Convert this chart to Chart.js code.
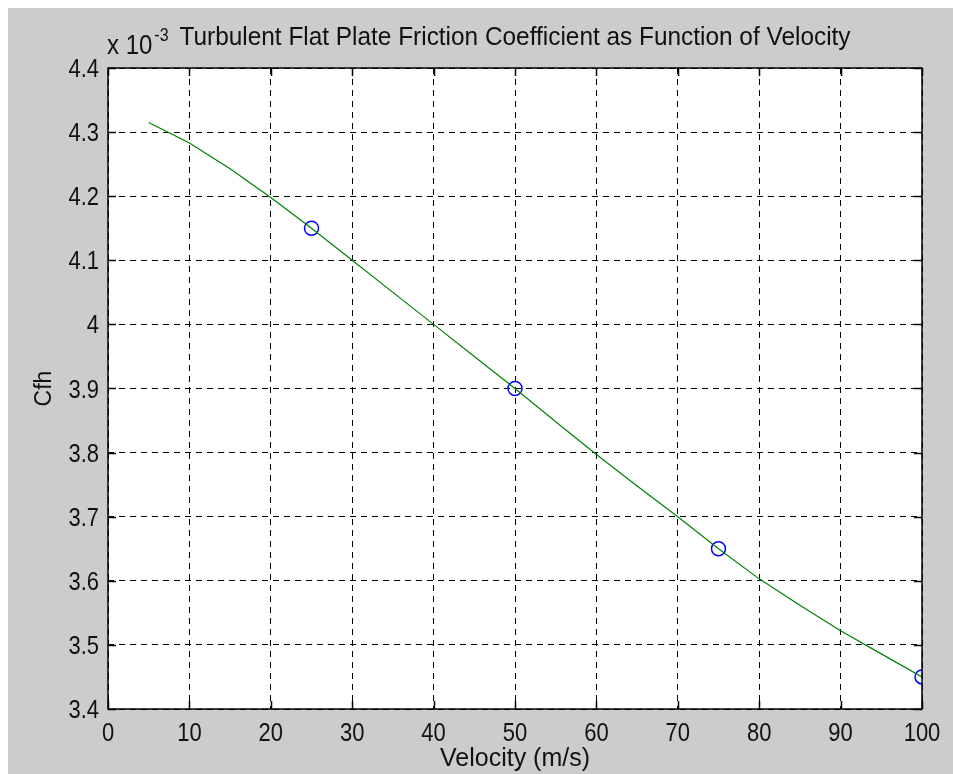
<!DOCTYPE html>
<html>
<head>
<meta charset="utf-8">
<title>Turbulent Flat Plate Friction Coefficient</title>
<script src="https://cdn.jsdelivr.net/npm/chart.js@4.4.1/dist/chart.umd.min.js"></script>
<style>
  html, body { margin: 0; background: #fff; }
  #wrap { position: absolute; left: 8px; top: 8px; width: 945px; height: 766px; background: #cccccc; }
</style>
</head>
<body>
<div id="wrap"><canvas id="cfChart" width="945" height="766"></canvas></div>
<script>
// Cfh values are given in units of 10^-3
const velocity = [5, 10, 15, 20, 25, 30, 35, 40, 45, 50, 55, 60, 65, 70, 75, 80, 85, 90, 95, 100];
const cfhCurve = [4.315, 4.283, 4.243, 4.198, 4.150, 4.100, 4.050, 4.000, 3.950, 3.900,
                  3.848, 3.797, 3.748, 3.700, 3.650, 3.603, 3.562, 3.522, 3.486, 3.450];
const sampleVelocity = [25, 50, 75, 100];
const sampleCfh = [4.15, 3.90, 3.65, 3.45];

const FONT = '"Liberation Sans", Arial, sans-serif';
const INK = '#111';
const TALL = 1.15; // the axis font is drawn a little stretched vertically

function tallText(ctx, str, x, y, sy) {
  ctx.save();
  ctx.translate(x, y);
  ctx.scale(1, sy);
  ctx.fillText(str, 0, 0);
  ctx.restore();
}

const fmtY = v => String(Math.round(v * 10) / 10);

// white plot area, black frame, inward ticks on all four sides, labels and titles
const axesBox = {
  id: 'axesBox',
  beforeDraw(chart) {
    const { ctx, chartArea: a } = chart;
    ctx.save();
    ctx.fillStyle = '#fff';
    ctx.fillRect(a.left, a.top, a.right - a.left, a.bottom - a.top);
    ctx.restore();
  },
  afterDraw(chart) {
    const { ctx, chartArea: a, scales } = chart;
    const len = 8;
    ctx.save();
    ctx.strokeStyle = '#000';
    ctx.lineWidth = 1.5;
    ctx.beginPath();
    scales.x.ticks.forEach(t => {
      const px = Math.round(scales.x.getPixelForValue(t.value)) + 0.5;
      ctx.moveTo(px, a.bottom); ctx.lineTo(px, a.bottom - len);
      ctx.moveTo(px, a.top); ctx.lineTo(px, a.top + len);
    });
    scales.y.ticks.forEach(t => {
      const py = Math.round(scales.y.getPixelForValue(t.value)) + 0.5;
      ctx.moveTo(a.left, py); ctx.lineTo(a.left + len, py);
      ctx.moveTo(a.right, py); ctx.lineTo(a.right - len, py);
    });
    ctx.stroke();
    ctx.strokeRect(a.left, a.top, a.right - a.left, a.bottom - a.top);

    // tick labels
    ctx.fillStyle = INK;
    ctx.textBaseline = 'alphabetic';
    ctx.font = '22px ' + FONT;
    ctx.textAlign = 'center';
    scales.x.ticks.forEach(t => {
      tallText(ctx, String(t.value), scales.x.getPixelForValue(t.value), a.bottom + 32, TALL);
    });
    ctx.textAlign = 'right';
    scales.y.ticks.forEach(t => {
      tallText(ctx, fmtY(t.value), a.left - 9, scales.y.getPixelForValue(t.value) + 9, TALL);
    });

    // titles
    ctx.font = '24.4px ' + FONT;
    ctx.textAlign = 'center';
    tallText(ctx, 'Turbulent Flat Plate Friction Coefficient as Function of Velocity', (a.left + a.right) / 2, 37, 1.05);
    ctx.textAlign = 'left';
    ctx.font = '24px ' + FONT;
    tallText(ctx, 'x 10', a.left - 1, 46, TALL);
    const w = ctx.measureText('x 10').width;
    ctx.font = '16px ' + FONT;
    tallText(ctx, '-3', a.left + w + 1, 33, TALL);

    ctx.font = '25px ' + FONT;
    ctx.textAlign = 'center';
    tallText(ctx, 'Velocity (m/s)', (a.left + a.right) / 2, 758, 1.05);
    ctx.translate(43, (a.top + a.bottom) / 2);
    ctx.rotate(-Math.PI / 2);
    ctx.font = '23px ' + FONT;
    ctx.fillText('Cfh', 0, 0);
    ctx.restore();
  }
};

new Chart(document.getElementById('cfChart'), {
  type: 'scatter',
  data: {
    datasets: [
      {
        data: velocity.map((v, i) => ({ x: v, y: cfhCurve[i] })),
        showLine: true,
        borderColor: '#008000',
        borderWidth: 1.2,
        pointRadius: 0,
        tension: 0
      },
      {
        data: sampleVelocity.map((v, i) => ({ x: v, y: sampleCfh[i] })),
        showLine: false,
        pointStyle: 'circle',
        pointRadius: 7,
        borderColor: '#0000ff',
        backgroundColor: 'rgba(0,0,0,0)',
        borderWidth: 1.5
      }
    ]
  },
  options: {
    responsive: false,
    animation: false,
    devicePixelRatio: 1,
    layout: { padding: { top: 60, right: 31, left: 0, bottom: 0 } },
    plugins: { legend: { display: false }, tooltip: { enabled: false } },
    scales: {
      x: {
        type: 'linear', min: 0, max: 100,
        afterFit: s => { s.height = 65; },
        ticks: { stepSize: 10, display: false },
        grid: { color: '#000', lineWidth: 1, drawTicks: false },
        border: { display: false, dash: [6, 5] }
      },
      y: {
        min: 3.4, max: 4.4,
        afterFit: s => { s.width = 100; },
        ticks: { stepSize: 0.1, display: false },
        grid: { color: '#000', lineWidth: 1, drawTicks: false },
        border: { display: false, dash: [6, 5] }
      }
    }
  },
  plugins: [axesBox]
});
</script>
</body>
</html>
